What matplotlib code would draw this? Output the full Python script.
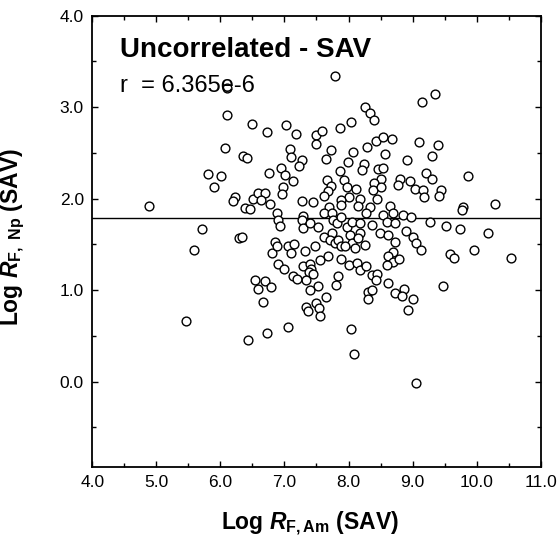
import matplotlib
matplotlib.use("Agg")
import matplotlib.pyplot as plt
from matplotlib.ticker import MultipleLocator

plt.rcParams['font.family'] = ['Liberation Sans', 'DejaVu Sans']
plt.rcParams['mathtext.fontset'] = 'custom'
plt.rcParams['mathtext.rm'] = 'Liberation Sans:bold'
plt.rcParams['mathtext.it'] = 'Liberation Sans:italic:bold'
plt.rcParams['mathtext.bf'] = 'Liberation Sans:bold'

# log R_F,Am (x) and log R_F,Np (y)
log_rf_am = [
    6.11, 6.11, 6.50, 6.72, 6.07, 6.35, 6.42, 6.76, 5.81, 6.01,
    5.90, 4.89, 6.23, 6.20, 6.51, 6.59, 6.70, 6.64, 6.38, 6.46,
    6.77, 8.26, 8.33, 8.40, 8.04, 7.87, 7.03, 7.18, 7.49, 7.58,
    7.50, 8.43, 8.54, 8.68, 8.29, 8.57, 7.09, 7.10, 7.27, 7.22,
    7.73, 7.65, 8.07, 7.99, 8.24, 8.21, 8.46, 8.54, 6.95, 7.01,
    7.14, 7.86, 7.67, 7.93, 7.73, 7.98, 8.50, 8.80, 8.77, 8.39,
    8.38, 8.11, 8.51, 7.68, 7.61, 6.98, 6.96, 8.01, 7.89, 8.18,
    8.45, 7.27, 7.45, 7.70, 7.89, 8.15, 8.34, 8.64, 9.35, 9.14,
    9.10, 9.39, 9.31, 8.92, 9.21, 9.30, 9.87, 8.96, 9.04, 9.16,
    9.45, 9.42, 9.18, 9.78, 10.28, 5.72, 6.29, 6.33, 5.58, 6.81,
    6.54, 6.69, 6.58, 6.79, 6.66, 5.46, 6.88, 6.90, 6.93, 7.29,
    7.27, 7.29, 7.40, 7.53, 7.61, 7.74, 7.76, 7.82, 7.89, 7.97,
    8.05, 8.18, 8.28, 8.36, 8.54, 8.60, 8.70, 8.73, 7.61, 7.74,
    7.71, 7.79, 7.84, 7.89, 8.02, 8.05, 8.18, 8.15, 8.26, 8.10,
    7.94, 8.49, 8.62, 8.73, 6.85, 6.88, 7.06, 7.15, 7.10, 7.32,
    7.48, 7.55, 7.68, 7.89, 8.00, 8.14, 8.18, 8.28, 8.36, 8.44,
    8.43, 8.70, 8.62, 8.70, 8.60, 6.90, 6.99, 7.29, 7.40, 7.42,
    7.39, 7.45, 7.34, 7.14, 7.20, 7.53, 7.40, 7.84, 7.80, 7.65,
    8.31, 8.36, 8.31, 8.62, 8.73, 7.34, 7.37, 7.50, 7.54, 7.55,
    8.85, 8.98, 9.27, 9.52, 9.74, 10.17, 9.77, 8.90, 9.00, 9.05,
    9.13, 9.58, 9.65, 9.96, 10.53, 8.79, 8.87, 8.83, 9.00, 9.47,
    8.93, 6.43, 6.72, 7.05, 8.04, 8.09, 9.06, 7.79,
]
log_rf_np = [
    3.21, 2.91, 2.82, 2.73, 2.55, 2.47, 2.44, 2.28, 2.27, 2.25,
    2.13, 1.92, 2.02, 1.97, 2.00, 2.06, 2.06, 1.98, 1.90, 1.89,
    1.94, 3.00, 2.94, 2.86, 2.84, 2.77, 2.81, 2.71, 2.70, 2.74,
    2.60, 2.63, 2.67, 2.65, 2.57, 2.49, 2.54, 2.46, 2.42, 2.36,
    2.53, 2.43, 2.51, 2.40, 2.38, 2.31, 2.32, 2.34, 2.33, 2.26,
    2.19, 2.30, 2.20, 2.20, 2.14, 2.13, 2.21, 2.22, 2.15, 2.17,
    2.10, 2.11, 2.13, 2.08, 2.03, 2.13, 2.05, 2.02, 1.99, 2.00,
    2.00, 1.97, 1.96, 1.91, 1.93, 1.92, 1.91, 1.92, 3.14, 3.06,
    2.62, 2.59, 2.47, 2.42, 2.28, 2.22, 2.25, 2.19, 2.11, 2.10,
    2.10, 2.03, 2.02, 1.91, 1.94, 1.67, 1.57, 1.58, 1.44, 1.41,
    1.11, 1.10, 1.01, 1.03, 0.87, 0.66, 1.84, 1.77, 1.70, 1.81,
    1.77, 1.68, 1.73, 1.69, 1.84, 1.84, 1.77, 1.73, 1.80, 1.69,
    1.75, 1.73, 1.84, 1.71, 1.82, 1.75, 1.84, 1.73, 1.58, 1.62,
    1.55, 1.51, 1.55, 1.48, 1.60, 1.51, 1.62, 1.57, 1.49, 1.46,
    1.48, 1.62, 1.60, 1.53, 1.53, 1.48, 1.48, 1.50, 1.41, 1.43,
    1.48, 1.33, 1.37, 1.34, 1.28, 1.30, 1.22, 1.26, 1.17, 1.18,
    1.11, 1.42, 1.37, 1.31, 1.28, 1.29, 1.23, 1.26, 1.29, 1.23,
    1.20, 1.18, 1.11, 1.15, 1.12, 1.04, 1.00, 1.15, 1.06, 0.92,
    0.98, 1.00, 0.90, 1.08, 0.97, 0.82, 0.77, 0.86, 0.80, 0.72,
    1.82, 1.80, 1.75, 1.70, 1.67, 1.63, 1.88, 1.65, 1.58, 1.52,
    1.44, 1.40, 1.35, 1.44, 1.35, 1.34, 1.01, 0.94, 0.90, 1.04,
    0.78, 0.45, 0.53, 0.60, 0.57, 0.30, -0.01, 3.34,
]
fit_level = 1.786
title_text = "Uncorrelated - SAV"
r_text = "r  = 6.365e-6"

fig = plt.figure(figsize=(5.58, 5.47), dpi=100)
ax = fig.add_axes([0.1654, 0.1468, 0.8036, 0.8245])

ax.axhline(fit_level, color='black', lw=1.0, zorder=1)
ax.scatter(log_rf_am, log_rf_np, s=40, facecolors='white',
           edgecolors='black', linewidths=1.0, zorder=2)

ax.set_xlim(4.0, 11.0)
ax.set_ylim(-0.93, 4.0)
ax.xaxis.set_major_locator(MultipleLocator(1.0))
ax.xaxis.set_minor_locator(MultipleLocator(0.5))
ax.yaxis.set_major_locator(MultipleLocator(1.0))
ax.yaxis.set_minor_locator(MultipleLocator(0.5))
ax.xaxis.set_major_formatter(plt.FormatStrFormatter('%.1f'))
ax.yaxis.set_major_formatter(plt.FormatStrFormatter('%.1f'))
ax.tick_params(which='both', direction='in', top=True, right=True,
               width=1.0, labelsize=12.5, pad=6)
ax.tick_params(which='major', length=4)
ax.tick_params(which='minor', length=3)
for sp in ax.spines.values():
    sp.set_linewidth(1.3)

ax.text(0.062, 0.925, title_text, transform=ax.transAxes,
        fontsize=20, fontweight='bold', va='center', ha='left')
ax.text(0.062, 0.845, r_text, transform=ax.transAxes,
        fontsize=17, va='center', ha='left')

ax.set_xlabel(r'Log $\mathit{R}_{\mathrm{F,Am}}$ (SAV)',
              fontsize=16.5, fontweight='bold')
ax.set_ylabel(r'Log $\mathit{R}_{\mathrm{F,\ Np}}$ (SAV)',
              fontsize=16.5, fontweight='bold')
ax.xaxis.set_label_coords(0.485, -0.095)
ax.yaxis.set_label_coords(-0.145, 0.51)

fig.savefig('out.png', dpi=100)
